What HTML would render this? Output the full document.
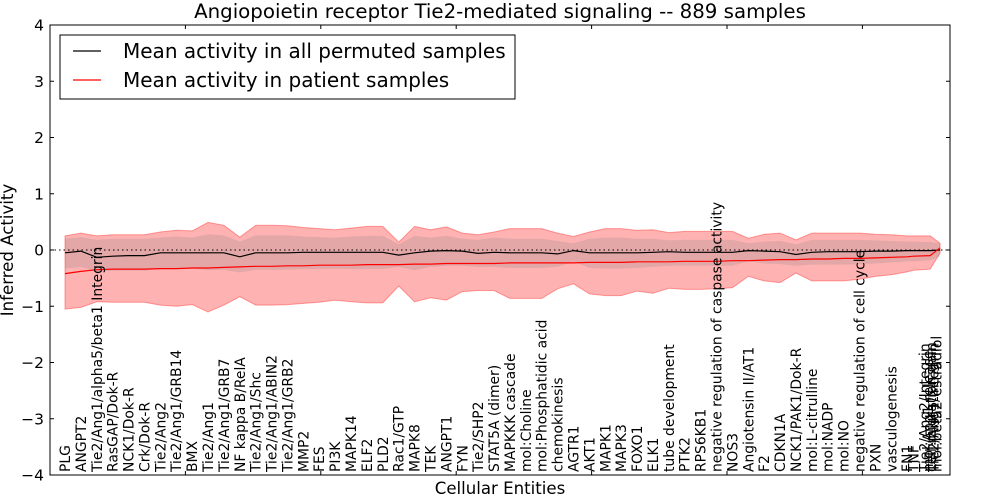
<!DOCTYPE html>
<html><head><meta charset="utf-8"><style>
html,body{margin:0;padding:0;background:#fff;}
svg{display:block;font-family:"DejaVu Sans","Liberation Sans",sans-serif;}
</style></head><body>
<svg id="chart" width="1000" height="500" viewBox="0 0 1000 500">
<rect x="0" y="0" width="1000" height="500" fill="#fff"/>
<text x="500" y="18" text-anchor="middle" font-size="19.8">Angiopoietin receptor Tie2-mediated signaling -- 889 samples</text>
<g id="plot"></g>
<text x="500" y="494" text-anchor="middle" font-size="16.6">Cellular Entities</text>
<text transform="translate(13,250) rotate(-90)" text-anchor="middle" font-size="16.6">Inferred Activity</text>
<g>
<rect x="60" y="35" width="455" height="64" fill="#fff" stroke="#000" stroke-width="1"/>
<line x1="73" y1="51" x2="101" y2="51" stroke="#000" stroke-width="1.2"/>
<text x="123" y="58" font-size="20">Mean activity in all permuted samples</text>
<line x1="73" y1="80" x2="101" y2="80" stroke="#f00" stroke-width="1.2"/>
<text x="123" y="87" font-size="20">Mean activity in patient samples</text>
</g>
</svg>
<script>
const labels = ["PLG","ANGPT2","Tie2/Ang1/alpha5/beta1 Integrin","RasGAP/Dok-R","NCK1/Dok-R","Crk/Dok-R","Tie2/Ang2","Tie2/Ang1/GRB14","BMX","Tie2/Ang1","Tie2/Ang1/GRB7","NF kappa B/RelA","Tie2/Ang1/Shc","Tie2/Ang1/ABIN2","Tie2/Ang1/GRB2","MMP2","FES","PI3K","MAPK14","ELF2","PLD2","Rac1/GTP","MAPK8","TEK","ANGPT1","FYN","Tie2/SHP2","STAT5A (dimer)","MAPKKK cascade","mol:Choline","mol:Phosphatidic acid","chemokinesis","AGTR1","AKT1","MAPK1","MAPK3","FOXO1","ELK1","tube development","PTK2","RPS6KB1","negative regulation of caspase activity","NOS3","Angiotensin II/AT1","F2","CDKN1A","NCK1/PAK1/Dok-R","mol:L-citrulline","mol:NADP","mol:NO","negative regulation of cell cycle","PXN","vasculogenesis","FN1","TNF","Tie2/Ang2/Integrin","mol:Ang1 release","cell migration gain","Tie2/Ang1/Integrin","mol:beta2-estradiol"];
const labelIdx = [0,1,2,3,4,5,6,7,8,9,10,11,12,13,14,15,16,17,18,19,20,21,22,23,24,25,26,27,28,29,30,31,32,33,34,35,36,37,38,39,40,41,42,43,44,45,46,47,48,49,50,51,52,53,53.4,54.1,54.3,54.5,54.65,54.85];
const pointIdx = [0,1,2,3,4,5,6,7,8,9,10,11,12,13,14,15,16,17,18,19,20,21,22,23,24,25,26,27,28,29,30,31,32,33,34,35,36,37,38,39,40,41,42,43,44,45,46,47,48,49,50,51,52,53,53.4,54.45,55.07];
const permMean = [-0.05,-0.02,-0.13,-0.11,-0.1,-0.1,-0.05,-0.05,-0.05,-0.05,-0.05,-0.12,-0.05,-0.05,-0.05,-0.04,-0.04,-0.04,-0.04,-0.04,-0.04,-0.09,-0.05,-0.02,-0.01,-0.02,-0.06,-0.04,-0.05,-0.05,-0.05,-0.07,-0.01,-0.05,-0.05,-0.05,-0.05,-0.04,-0.03,-0.04,-0.04,-0.04,-0.04,-0.01,-0.02,-0.03,-0.08,-0.04,-0.03,-0.03,-0.03,-0.02,-0.02,-0.01,-0.01,-0.01,0.0];
const permUpper = [0.2,0.23,0.18,0.2,0.2,0.2,0.22,0.24,0.22,0.28,0.26,0.15,0.26,0.26,0.26,0.24,0.23,0.22,0.24,0.25,0.25,0.1,0.25,0.22,0.25,0.2,0.18,0.22,0.2,0.2,0.2,0.16,0.12,0.2,0.22,0.22,0.2,0.2,0.17,0.18,0.18,0.18,0.18,0.12,0.15,0.16,0.1,0.18,0.18,0.18,0.18,0.17,0.16,0.15,0.15,0.14,0.12];
const permLower = [-0.33,-0.3,-0.38,-0.37,-0.37,-0.37,-0.33,-0.34,-0.33,-0.36,-0.35,-0.4,-0.35,-0.35,-0.35,-0.34,-0.34,-0.33,-0.34,-0.34,-0.34,-0.3,-0.36,-0.3,-0.28,-0.28,-0.3,-0.3,-0.32,-0.32,-0.32,-0.3,-0.2,-0.32,-0.33,-0.33,-0.32,-0.3,-0.28,-0.28,-0.28,-0.28,-0.28,-0.2,-0.24,-0.25,-0.28,-0.26,-0.26,-0.26,-0.25,-0.24,-0.22,-0.2,-0.2,-0.18,-0.12];
const patMean = [-0.42,-0.38,-0.35,-0.34,-0.34,-0.34,-0.33,-0.33,-0.32,-0.32,-0.31,-0.3,-0.29,-0.29,-0.28,-0.28,-0.27,-0.27,-0.27,-0.26,-0.26,-0.26,-0.25,-0.25,-0.24,-0.24,-0.24,-0.24,-0.23,-0.23,-0.23,-0.23,-0.23,-0.22,-0.22,-0.22,-0.21,-0.21,-0.21,-0.2,-0.2,-0.2,-0.19,-0.19,-0.18,-0.17,-0.17,-0.16,-0.16,-0.15,-0.15,-0.14,-0.13,-0.12,-0.11,-0.1,0.04];
const patUpper = [0.25,0.3,0.25,0.27,0.27,0.27,0.32,0.35,0.34,0.49,0.44,0.23,0.44,0.44,0.43,0.4,0.38,0.36,0.39,0.42,0.42,0.14,0.42,0.36,0.41,0.3,0.27,0.32,0.38,0.38,0.38,0.3,0.24,0.32,0.38,0.38,0.35,0.36,0.31,0.33,0.33,0.33,0.33,0.21,0.28,0.3,0.18,0.3,0.3,0.3,0.3,0.28,0.27,0.25,0.25,0.25,0.12];
const patLower = [-1.05,-1.02,-0.92,-0.93,-0.93,-0.93,-0.98,-1.0,-0.97,-1.1,-0.98,-0.83,-0.98,-0.98,-0.97,-0.95,-0.93,-0.89,-0.92,-0.94,-0.94,-0.64,-0.92,-0.85,-0.89,-0.74,-0.72,-0.72,-0.86,-0.86,-0.86,-0.69,-0.6,-0.78,-0.81,-0.81,-0.73,-0.77,-0.68,-0.7,-0.7,-0.69,-0.67,-0.47,-0.55,-0.58,-0.41,-0.55,-0.55,-0.55,-0.52,-0.47,-0.44,-0.39,-0.36,-0.34,-0.05];
const yTicks = [-4,-3,-2,-1,0,1,2,3,4];

const NS = "http://www.w3.org/2000/svg";
const L = 50, R = 950, T = 25, B = 475;
const X = i => 65 + i * 15.89;
const Y = v => 250 - v * 56.25;
const g = document.getElementById('plot');
function mk(tag, attrs){const e=document.createElementNS(NS,tag);for(const k in attrs)e.setAttribute(k,attrs[k]);g.appendChild(e);return e;}
function band(up, lo){let d='';pointIdx.forEach((p,i)=>{d+=(i?'L':'M')+X(p).toFixed(1)+','+Y(up[i]).toFixed(1);});for(let i=pointIdx.length-1;i>=0;i--){d+='L'+X(pointIdx[i]).toFixed(1)+','+Y(lo[i]).toFixed(1);}return d+'Z';}
function line(vals){return pointIdx.map((p,i)=>(i?'L':'M')+X(p).toFixed(1)+','+Y(vals[i]).toFixed(1)).join('');}

let e;
e = mk('path',{d:band(patUpper,patLower),fill:'rgba(255,0,0,0.3)',stroke:'rgba(255,0,0,0.35)','stroke-width':1});


e = mk('path',{d:band(permUpper,permLower),fill:'rgba(128,128,128,0.22)',stroke:'none'});


e = mk('line',{x1:L,x2:R,y1:Y(0),y2:Y(0),stroke:'#000','stroke-dasharray':'1.5,3','stroke-width':1});


e = mk('path',{d:line(permMean),fill:'none',stroke:'#000','stroke-width':1.2});


e = mk('path',{d:line(patMean),fill:'none',stroke:'#f00','stroke-width':1.2});



yTicks.forEach(v=>{
  e = mk('line',{x1:L,x2:L+4,y1:Y(v),y2:Y(v),stroke:'#000'});
  
  
  e = mk('line',{x1:R-4,x2:R,y1:Y(v),y2:Y(v),stroke:'#000'});
  
  
  e = mk('text',{x:L-6,y:Y(v)+5.5,'text-anchor':'end','font-size':15.5});
  e.textContent = (v<0?'\u2212':'')+Math.abs(v);
  
  
});
for(let k=1;k<7;k++){
  const x = L + k*135.4;
  e = mk('line',{x1:x,x2:x,y1:T,y2:T+4,stroke:'#000'});
  
  
  e = mk('line',{x1:x,x2:x,y1:B-4,y2:B,stroke:'#000'});
  
  
}
labels.forEach((t,i)=>{
  const x = X(labelIdx[i]) + 5;
  e = mk('text',{transform:'translate('+x.toFixed(1)+',472) rotate(-90)','font-size':13.9});
  e.textContent = t;
  
  
});
e = mk('rect',{x:L,y:T,width:R-L,height:B-T,fill:'none',stroke:'#000','stroke-width':1});


</script>
</body></html>
